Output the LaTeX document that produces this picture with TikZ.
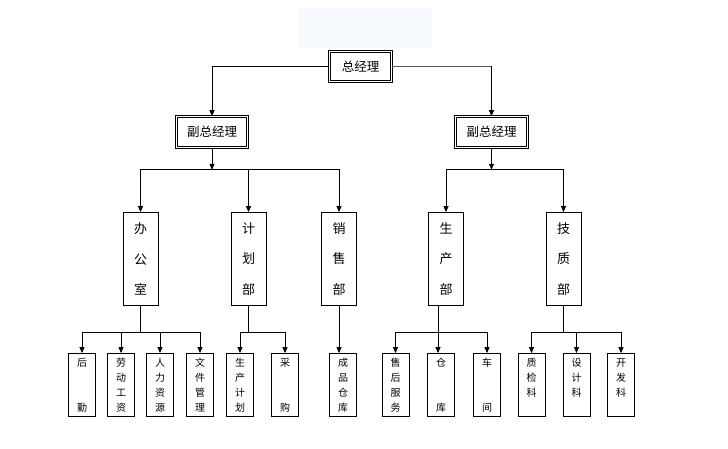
\documentclass[tikz,border=0pt]{standalone}
\usepackage{fontspec}
\newfontfamily\cjk{Noto Sans CJK SC}
\usetikzlibrary{arrows.meta}
\definecolor{pale}{RGB}{246,249,253}

\begin{document}
\begin{tikzpicture}[x=1pt,y=-1pt,line width=0.8pt,
    arr/.style={-{Triangle[length=6pt,width=5pt]}},
    boss/.style={draw,double,double distance=1.4pt,line width=0.6pt,inner sep=0pt,font=\cjk\fontsize{12.5}{13}\selectfont},
    dept/.style={draw,minimum width=35,minimum height=93,inner sep=0pt,align=center,font=\cjk\fontsize{13}{30.5}\selectfont},
    unit/.style={draw,minimum width=27,minimum height=63,inner sep=0pt,align=center,font=\cjk\fontsize{10}{15}\selectfont}]
    \useasboundingbox (0,0) rectangle (728,449);
    \fill[pale] (298,8) rectangle (432,48);
    \node[boss,minimum width=62,minimum height=30] (zjl) at (360.5,66.5) {总经理};
    \node[boss,minimum width=71,minimum height=31] (fzl1) at (212,132) {副总经理};
    \node[boss,minimum width=72,minimum height=31] (fzl2) at (491.5,132) {副总经理};
    \node[dept] (bgs) at (140.5,259) {办\\公\\室};
    \node[dept] (jhb) at (248.5,259) {计\\划\\部};
    \node[dept] (xsb) at (339,259) {销\\售\\部};
    \node[dept] (scb) at (446,259) {生\\产\\部};
    \node[dept] (jzb) at (563.5,259) {技\\质\\部};
    \node[unit] (hq) at (82,385) {后\\~\\~\\勤};
    \node[unit] (ldgz) at (121,385) {劳\\动\\工\\资};
    \node[unit] (rlzy) at (160,385) {人\\力\\资\\源};
    \node[unit] (wjgl) at (200,385) {文\\件\\管\\理};
    \node[unit] (scjh) at (240,385) {生\\产\\计\\划};
    \node[unit] (cg) at (285,385) {采\\~\\~\\购};
    \node[unit] (cpck) at (343,385) {成\\品\\仓\\库};
    \node[unit] (shfw) at (395.5,385) {售\\后\\服\\务};
    \node[unit] (ck) at (441,385) {仓\\~\\~\\库};
    \node[unit] (cj) at (487,385) {车\\~\\~\\间};
    \node[unit] (zjk) at (531.5,385) {质\\检\\科\\~};
    \node[unit] (sjk) at (576.5,385) {设\\计\\科\\~};
    \node[unit] (kfk) at (621,385) {开\\发\\科\\~};
    \draw[arr] (zjl.west) -| (fzl1.north);
    \draw[gray!70!black] (zjl.east) -- (zjl.east -| fzl2.north) coordinate (k2);
    \draw[arr] (k2) -- (fzl2.north);
    \draw[arr] (fzl1.south) -- ++(0,22) coordinate (j1);
    \draw[arr] (fzl2.south) -- ++(0,22) coordinate (j2);
    \foreach \n in {bgs,jhb,xsb} \draw[arr] (j1) -| (\n.north);
    \foreach \n in {scb,jzb} \draw[arr] (j2) -| (\n.north);
    \draw (bgs.south) -- ++(0,26) coordinate (b1);
    \draw (jhb.south) -- ++(0,26) coordinate (b2);
    \draw[arr] (xsb.south) -- (xsb.south |- cpck.north);
    \draw ([xshift=-8pt]scb.south) -- ++(0,26) coordinate (b4);
    \draw (jzb.south) -- ++(0,26) coordinate (b5);
    \foreach \n in {hq,ldgz,rlzy,wjgl} \draw[arr] (b1) -| (\n.north);
    \foreach \n in {scjh,cg} \draw[arr] (b2) -| (\n.north);
    \foreach \n in {shfw,cj} \draw[arr] (b4) -| (\n.north);
    \draw[arr] (b4) -- (b4 |- ck.north);
    \foreach \n in {zjk,sjk,kfk} \draw[arr] (b5) -| (\n.north);
\end{tikzpicture}
\end{document}
